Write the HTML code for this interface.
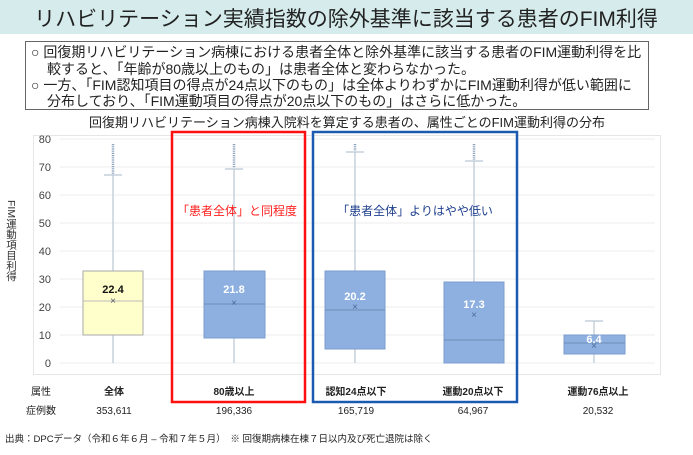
<!DOCTYPE html><html><head><meta charset="utf-8"><style>
body{margin:0;width:693px;height:450px;background:#fff;overflow:hidden;font-family:"Liberation Sans","Noto Sans CJK JP",sans-serif;position:relative}
.yl{position:absolute;left:4px;top:200px;writing-mode:vertical-rl;font-size:10.5px;color:#333;line-height:14px}
</style></head><body>
<svg width="693" height="450" xmlns="http://www.w3.org/2000/svg" font-family="Liberation Sans, Noto Sans CJK JP, sans-serif">
<rect x="0" y="0" width="693" height="34" fill="#d6ecec"/>
<text x="346" y="26" font-size="21" text-anchor="middle" fill="#222">リハビリテーション実績指数の除外基準に該当する患者のFIM利得</text>
<rect x="25.5" y="41.5" width="623" height="68" fill="#fff" stroke="#666" stroke-width="1"/>
<g font-size="14" fill="#222">
<text x="31" y="57">○ 回復期リハビリテーション病棟における患者全体と除外基準に該当する患者のFIM運動利得を比</text>
<text x="47" y="74">較すると、「年齢が80歳以上のもの」は患者全体と変わらなかった。</text>
<text x="31" y="90">○ 一方、「FIM認知項目の得点が24点以下のもの」は全体よりわずかにFIM運動利得が低い範囲に</text>
<text x="47" y="106">分布しており、「FIM運動項目の得点が20点以下のもの」はさらに低かった。</text>
</g>
<text x="347" y="127" font-size="13" text-anchor="middle" fill="#222">回復期リハビリテーション病棟入院料を算定する患者の、属性ごとのFIM運動利得の分布</text>
<rect x="33.5" y="135.5" width="627" height="239" fill="none" stroke="#e6e6e6"/>
<g stroke="#eee" stroke-width="1">
<line x1="60" x2="655" y1="139" y2="139"/><line x1="60" x2="655" y1="167" y2="167"/><line x1="60" x2="655" y1="195" y2="195"/><line x1="60" x2="655" y1="223" y2="223"/><line x1="60" x2="655" y1="251" y2="251"/><line x1="60" x2="655" y1="279" y2="279"/><line x1="60" x2="655" y1="307" y2="307"/><line x1="60" x2="655" y1="335" y2="335"/><line x1="60" x2="655" y1="363" y2="363"/>
</g>
<g font-size="11" fill="#444" text-anchor="end">
<text x="51" y="143">80</text><text x="51" y="171">70</text><text x="51" y="199">60</text><text x="51" y="227">50</text><text x="51" y="255">40</text><text x="51" y="283">30</text><text x="51" y="311">20</text><text x="51" y="339">10</text><text x="51" y="367">0</text>
</g>
<g stroke="#b9c6d3" stroke-width="1.2">
<line x1="113" x2="113" y1="175" y2="363"/><line x1="104" x2="122" y1="175" y2="175"/>
<line x1="234" x2="234" y1="169" y2="363"/><line x1="225" x2="243" y1="169" y2="169"/>
<line x1="355" x2="355" y1="152" y2="363"/><line x1="346" x2="364" y1="152" y2="152"/>
<line x1="474" x2="474" y1="161" y2="363"/><line x1="465" x2="483" y1="161" y2="161"/>
<line x1="594" x2="594" y1="321" y2="363"/><line x1="585" x2="603" y1="321" y2="321"/>
</g>
<g stroke="#8ea4bf" stroke-width="2.5" stroke-dasharray="1.2 1">
<line x1="113" x2="113" y1="144" y2="174"/><line x1="234" x2="234" y1="144" y2="168"/>
<line x1="355" x2="355" y1="144" y2="151"/><line x1="474" x2="474" y1="144" y2="160"/>
</g>
<rect x="83" y="271" width="60" height="64" fill="#ffffcc" stroke="#aaa"/>
<line x1="83" x2="143" y1="301" y2="301" stroke="#bbb"/>
<g fill="#8eb0e0" stroke="#7c9ccc">
<rect x="204" y="271" width="61" height="67"/>
<rect x="325" y="271" width="60" height="78"/>
<rect x="444" y="282" width="60" height="81"/>
<rect x="564" y="335" width="61" height="19"/>
</g>
<g stroke="#6e8cb8">
<line x1="204" x2="265" y1="304" y2="304"/><line x1="325" x2="385" y1="310" y2="310"/><line x1="444" x2="504" y1="340" y2="340"/><line x1="564" x2="625" y1="343" y2="343"/>
</g>
<g font-size="10" fill="#4a6a99" text-anchor="middle">
<text x="113" y="304" fill="#556">×</text><text x="234" y="306">×</text><text x="355" y="310">×</text><text x="474" y="318">×</text><text x="594" y="349">×</text>
</g>
<g font-size="11" font-weight="bold" text-anchor="middle" fill="#fff">
<text x="113" y="293" fill="#111">22.4</text><text x="234" y="293">21.8</text><text x="355" y="300">20.2</text><text x="474" y="308">17.3</text><text x="594" y="343">6.4</text>
</g>
<rect x="172" y="132" width="133" height="270" fill="none" stroke="#ff1010" stroke-width="2.5"/>
<rect x="313" y="132" width="204" height="270" fill="none" stroke="#1a5ab0" stroke-width="2.5"/>
<text x="237" y="215" font-size="12" fill="#ff2020" text-anchor="middle">「患者全体」と同程度</text>
<text x="415" y="215" font-size="12" fill="#1f3f8f" text-anchor="middle">「患者全体」よりはやや低い</text>
<g font-size="10" fill="#222" text-anchor="middle">
<text x="41" y="395">属性</text>
<text x="114" y="395" font-weight="bold">全体</text>
<text x="234" y="395" font-weight="bold">80歳以上</text>
<text x="356" y="395" font-weight="bold">認知24点以下</text>
<text x="473" y="395" font-weight="bold">運動20点以下</text>
<text x="598" y="395" font-weight="bold">運動76点以上</text>
<text x="41" y="414">症例数</text>
<text x="114" y="414">353,611</text><text x="234" y="414">196,336</text><text x="356" y="414">165,719</text><text x="473" y="414">64,967</text><text x="598" y="414">20,532</text>
</g>
<text x="5" y="442" font-size="9.5" fill="#222">出典：DPCデータ（令和６年６月 – 令和７年５月）　※ 回復期病棟在棟７日以内及び死亡退院は除く</text>
</svg>
<div class="yl">FIM運動項目利得</div>
</body></html>
